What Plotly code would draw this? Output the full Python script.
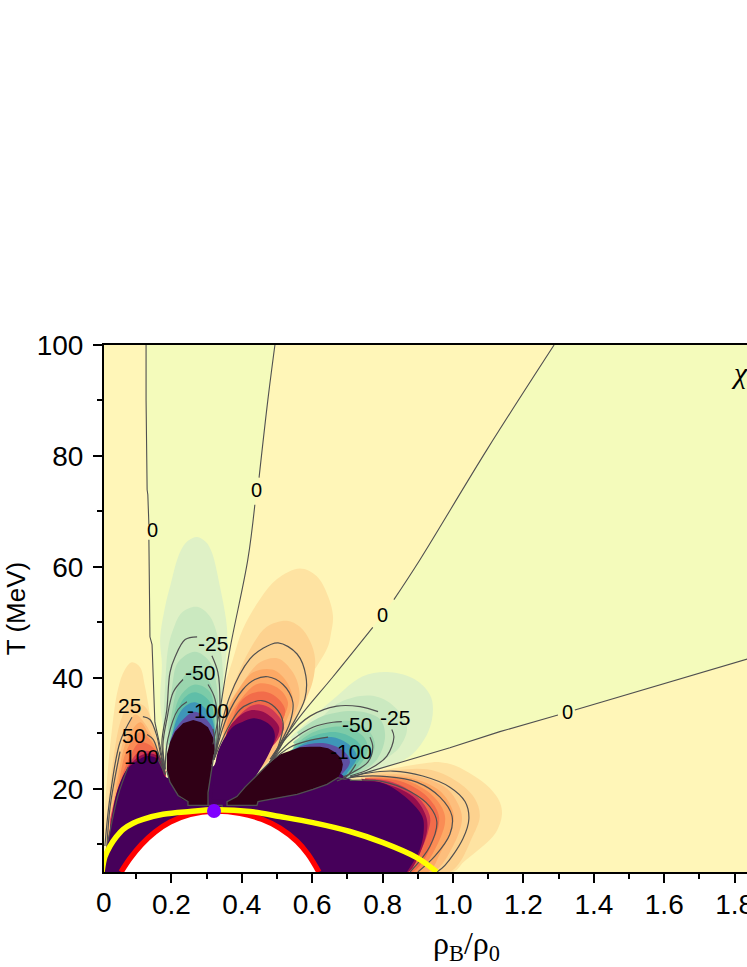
import plotly.graph_objects as go

# ---- axis values and labels -------------------------------------------------
x_ticks = [0.2, 0.4, 0.6, 0.8, 1.0, 1.2, 1.4, 1.6, 1.8]
x_labels = ["0.2", "0.4", "0.6", "0.8", "1.0", "1.2", "1.4", "1.6", "1.8"]
x_minor = [0.1, 0.3, 0.5, 0.7, 0.9, 1.1, 1.3, 1.5, 1.7]
y_ticks = [20, 40, 60, 80, 100]
y_labels = ["20", "40", "60", "80", "100"]
y_minor = [10, 30, 50, 70, 90]

# ---- zero contours (rho/rho0, T) ---------------------------------------------
zero_a = [(.128,100),(.128,90.1),(.131,73.9),(.133,73.0),(.136,67.6),(.136,64.9),(.139,47.4),(.145,46.0),(.153,32.0),(.168,27.6),(.182,22.6)]
zero_b = [(.494,100),(.474,90.1),(.449,76.1),(.437,71.2),(.417,61.3),(.366,45.1),(.338,34.3),(.318,28.0)]
zero_c = [(1.287,100),(1.096,81.1),(.906,61.3),(.832,54.1),(.772,49.1),(.659,40.2),(.565,33.0),(.480,25.3)]
zero_d = [(1.9,44.6),(1.531,37.6),(1.346,34.2),(1.298,33.3),(1.133,30.3),(.991,27.4),(.849,24.8),(.736,22.6),(.693,21.7)]

# ---- filled bands: left lobe ---------------------------------------------------
L1 = [(.006,12.7),(.026,27.7),(.048,37.9),(.068,41.5),(.088,42.8),(.111,41.9),(.125,38.4),(.148,30.8),(.168,27.2),(.182,21.7),(.026,7.3)]
L2 = [(.011,10.9),(.031,23.5),(.060,33.0),(.088,35.6),(.125,34.8),(.145,32.0),(.162,27.6),(.182,21.7),(.026,7.3)]
L3 = [(.017,10.9),(.040,22.3),(.074,30.7),(.097,33.4),(.131,31.2),(.159,27.1),(.182,21.7),(.026,7.3)]
L4 = [(.020,10.9),(.045,21.2),(.074,28.9),(.111,32.0),(.133,30.2),(.162,26.6),(.182,21.7),(.026,7.3)]
L5 = [(.020,10.9),(.048,20.4),(.074,27.1),(.111,30.2),(.139,28.9),(.165,26.2),(.182,21.7),(.026,7.3)]
L6 = [(.026,14.0),(.054,21.2),(.082,25.8),(.111,28.4),(.145,27.6),(.165,25.8),(.182,21.7),(.026,7.3)]
L7 = [(.026,14.5),(.048,19.9),(.088,25.3),(.111,26.7),(.145,26.7),(.168,25.7),(.182,21.7),(.026,7.3)]
L8 = [(.026,13.5),(.048,19.5),(.077,23.9),(.119,26.2),(.153,26.2),(.170,25.3),(.182,21.7),(.026,7.3)]

# ---- filled bands: central negative lobe ---------------------------------------
G1 = [(.196,19.9),(.176,30.7),(.168,36.1),(.173,42.4),(.168,46.9),(.182,52.8),(.196,56.4),(.224,62.6),(.247,64.7),(.273,65.4),(.298,64.5),(.315,62.6),(.338,56.4),(.358,48.8),(.355,43.3),(.344,37.9),(.332,32.5),(.315,25.3)]
G2 = [(.176,30.7),(.182,38.4),(.190,45.1),(.202,48.2),(.230,51.8),(.273,52.8),(.310,51.0),(.338,45.6),(.346,41.0),(.344,34.3),(.329,28.0),(.196,20)]
G3 = [(.190,30.7),(.202,38.4),(.219,42.8),(.267,44.7),(.310,42.8),(.329,38.4),(.332,32.0),(.321,27.1),(.2,20)]
G4 = [(.190,28),(.202,33.9),(.224,39.2),(.267,41.6),(.304,39.7),(.324,36.1),(.329,30.7),(.321,27.1)]
G5 = [(.195,28),(.202,31.3),(.224,36.6),(.267,38.8),(.310,37.4),(.321,33.0),(.324,28)]
G6 = [(.2,27),(.205,30.8),(.233,36.1),(.267,37.4),(.310,35.6),(.324,30.8),(.324,27)]
G7 = [(.2,26),(.202,29.5),(.230,34.3),(.267,35.6),(.310,33.4),(.324,29.4),(.32,26)]
G8 = [(.2,26),(.196,28.4),(.216,31.2),(.267,33.9),(.315,31.2),(.324,28.4),(.32,26)]

# ---- filled bands: upper positive lobe ------------------------------------------
O1 = [(.327,25.3),(.346,37.2),(.375,43.4),(.403,48.8),(.452,54.2),(.500,57.8),(.565,59.7),(.613,58.3),(.645,54.7),(.659,51.1),(.653,47.9),(.645,45.7),(.613,42.1),(.565,37.9),(.508,32.5),(.457,27.1),(.395,21.7)]
O2 = [(.346,28.0),(.346,33.0),(.375,38.4),(.423,45.1),(.471,49.2),(.528,50.3),(.565,49.2),(.594,46.6),(.608,43.5),(.602,39.5),(.585,36.5),(.545,31.5),(.500,26.5),(.437,22.6)]
O3 = [(.346,28.0),(.358,34.3),(.395,38.4),(.452,42.8),(.503,43.5),(.545,41.0),(.562,38.2),(.562,35.5),(.535,31.5),(.500,27.0),(.437,22.6)]
O4 = [(.350,28),(.352,33.0),(.386,37.4),(.432,41.0),(.486,41.5),(.523,39.7),(.545,36.1),(.528,32.5),(.480,27.1),(.437,22.6)]
O5 = [(.354,28),(.361,32.5),(.403,36.6),(.440,38.8),(.474,38.9),(.508,37.9),(.531,35.6),(.514,32.2),(.474,27.1),(.432,22.6)]
O6 = [(.358,28),(.372,32.1),(.395,35.6),(.429,37.2),(.466,37.5),(.497,36.6),(.523,34.3),(.508,31.2),(.469,27.1),(.432,22.6)]
O7 = [(.358,28),(.375,31.6),(.403,33.9),(.429,35.0),(.452,35.2),(.486,34.3),(.520,31.2),(.503,28.9),(.466,26.2),(.432,22.6)]
O8 = [(.352,28),(.361,30.7),(.395,33.2),(.423,34.1),(.446,34.1),(.474,33.4),(.506,31.1),(.494,28.5),(.460,25.3),(.432,22.6)]
P2 = [(.315,18.1),(.327,25.3),(.338,27.6),(.375,31.2),(.403,32.1),(.432,32.7),(.460,32.3),(.486,31.1),(.494,29.4),(.480,26.7),(.452,23.5),(.395,18.1)]

# ---- filled bands: right negative lobe ------------------------------------------
R1 = [(.537,29.3),(.585,32.0),(.659,36.1),(.744,40.3),(.821,41.0),(.892,39.7),(.934,37.0),(.943,34.3),(.929,30.2),(.878,25.9),(.792,23.5),(.693,21.7)]
R2 = [(.565,29.0),(.613,32.0),(.679,35.6),(.764,36.8),(.826,35.2),(.869,31.2),(.849,27.6),(.792,24.8),(.693,21.7)]
R3 = [(.557,30.2),(.630,33.1),(.727,34.0),(.792,32.6),(.807,29.5),(.784,25.3),(.727,22.6),(.69,21.7),(.6,25)]
R4 = [(.545,28.4),(.613,31.1),(.707,32.2),(.764,30.2),(.778,27.6),(.755,24.8),(.699,21.8),(.6,25)]
R5 = [(.545,27.5),(.602,30.2),(.687,31.2),(.744,29.5),(.758,27.1),(.736,24.4),(.693,22.1),(.6,25)]
R6 = [(.537,26.8),(.594,29.3),(.670,30.2),(.727,28.6),(.744,26.6),(.721,24.1),(.684,22.1),(.6,25)]
R7 = [(.528,26.2),(.585,28.4),(.659,29.3),(.713,27.5),(.727,25.7),(.707,23.5),(.679,21.7),(.6,25)]
R8 = [(.517,25.7),(.565,27.6),(.636,28.2),(.693,26.6),(.707,24.8),(.684,22.6),(.650,20.8),(.6,25)]

# ---- filled bands: lower positive lobe ------------------------------------------
B1 = [(.707,22.6),(.764,23.0),(.849,23.9),(.920,24.6),(.963,24.8),(1.005,24.2),(1.06,22.3),(1.105,20.1),(1.132,17.7),(1.139,15.4),(1.125,12.5),(1.098,10.4),(1.068,8.8),(1.03,6.8),(1.000,5),(.8,5)]
B2 = [(.736,22.4),(.926,23.5),(1.011,21.3),(1.062,18.2),(1.076,15.1),(1.056,11.5),(.991,5.0),(.8,5)]
B3 = [(.764,22.4),(.892,22.4),(.983,20.0),(1.020,16.4),(1.025,14.2),(1.000,9.7),(.943,5.0),(.8,5)]
B4 = [(.764,22.2),(.878,22.0),(.963,19.6),(1.000,15.9),(1.000,13.7),(.963,8.3),(.929,5),(.8,5)]
B5 = [(.75,22),(.858,21.7),(.943,18.7),(.977,15.1),(.963,11.0),(.897,5),(.8,5)]
B6 = [(.75,21.9),(.849,21.4),(.926,18.6),(.960,15.0),(.943,10.5),(.886,5),(.8,5)]
B7 = [(.75,21.8),(.829,21.2),(.897,18.7),(.934,15.1),(.929,12.2),(.886,6.0),(.869,5),(.8,5)]
B8 = [(.74,21.8),(.809,20.9),(.886,18.6),(.923,15.1),(.926,12.4),(.892,6.5),(.872,5),(.8,5)]
P1 = [(.003,5),(.011,8.2),(.026,12.7),(.045,19.4),(.074,23.5),(.102,25.0),(.131,25.9),(.162,25.3),(.182,22.2),(.195,22),(.25,25),(.30,25),(.318,24),(.33,25),(.345,24),(.42,21),(.48,24),(.565,25),(.65,24),(.707,21.7),(.801,21.0),(.869,18.3),(.912,15.1),(.917,12.8),(.906,9.1),(.869,5)]

# ---- saturated plateaus ----------------------------------------------------------
M1 = [(.262,32.4),(.284,32.0),(.304,31.1),(.318,29.3),(.324,27.1),(.315,24.4),(.307,20.8),(.304,17.0),(.247,17.0),(.247,17.7),(.230,18.1),(.219,18.8),(.207,19.9),(.196,21.2),(.187,23.2),(.187,26.2),(.196,28.4),(.210,30.3),(.233,31.8)]
M2 = [(.358,17.0),(.358,17.7),(.386,18.6),(.409,20.3),(.429,21.5),(.452,23.0),(.480,24.8),(.508,26.2),(.537,26.9),(.565,27.5),(.594,27.6),(.622,27.6),(.645,27.3),(.665,26.6),(.682,25.5),(.687,24.4),(.684,23.3),(.673,22.0),(.642,20.8),(.602,19.9),(.557,19.0),(.517,18.6),(.500,18.3),(.446,17.7),(.443,17.0)]
edge1 = [(.187,23.2),(.196,21.2),(.219,18.8),(.247,17.7),(.247,17.0),(.304,17.0),(.304,19.3),(.315,24.4),(.321,26.2)]
edge2 = [(.304,17.0),(.344,17.0),(.344,16.4)]
edge3 = [(.480,24.8),(.452,23.0),(.429,21.5),(.409,20.3),(.386,18.6),(.358,17.7),(.358,17.0),(.443,17.0),(.446,17.7),(.500,18.3),(.517,18.6),(.557,19.0),(.602,19.9),(.642,20.8),(.673,22.0),(.693,21.7)]

# ---- labelled contours -----------------------------------------------------------
level_lines = [
    [(.088,32.9),(.054,28.4),(.026,18.7),(.011,9.7)],
    [(.119,33.0),(.139,32.5),(.159,29.4),(.168,26.6),(.182,22.6)],
    [(.054,26.7),(.026,16.8),(.017,9.7)],
    [(.131,29.8),(.148,28.9),(.162,26.6),(.182,22.6)],
    [(.077,23.9),(.048,18.7),(.020,10.5)],
    [(.162,25.3),(.182,22.6)],
    [(.273,47.4),(.239,46.9),(.210,43.7),(.196,41.0),(.187,34.3),(.173,28.4),(.182,23.5)],
    [(.315,44.0),(.332,41.0),(.338,35.6),(.332,28.4),(.321,25.3)],
    [(.233,39.7),(.205,37.4),(.187,32.5),(.176,28.0),(.182,23.5)],
    [(.304,38.8),(.324,36.1),(.329,28.4),(.321,25.3)],
    [(.244,35.7),(.219,34.3),(.190,29.0),(.182,23.5)],
    [(.318,30.8),(.324,28),(.321,25.3)],
    [(.321,25.3),(.329,27.8),(.366,36.7),(.423,43.4),(.457,45.2),(.503,46.3),(.557,44.3),(.582,40.3),(.579,36.2),(.537,30.8),(.494,25.9),(.480,24.8)],
    [(.321,25.3),(.358,33.0),(.403,37.9),(.437,39.7),(.474,40.2),(.517,38.8),(.545,35.6),(.537,32.0),(.500,27.1),(.480,24.8)],
    [(.321,25.3),(.358,30.7),(.395,34.3),(.423,35.4),(.457,35.9),(.494,34.7),(.517,32.0),(.503,27.6),(.480,24.8)],
    [(.480,24.8),(.528,29.3),(.594,33.1),(.670,34.9),(.736,34.8),(.787,33.9)],
    [(.826,30.7),(.832,29.3),(.812,25.9),(.764,23.6),(.707,22.3)],
    [(.480,24.8),(.545,28.9),(.602,31.1),(.659,32.0),(.684,32.1)],
    [(.764,29.3),(.772,27.5),(.758,24.8),(.716,23.0),(.687,22.1)],
    [(.480,24.8),(.537,27.5),(.585,28.6),(.645,29.3)],
    [(.724,24.4),(.699,22.3),(.670,21.4)],
    [(.707,22.1),(.755,22.8),(.829,23.2),(.914,22.3),(.991,20.3),(1.034,17.7),(1.045,14.6),(1.028,11.0),(.977,6.2),(.954,5)],
    [(.707,22),(.727,22.2),(.812,22.2),(.897,21.2),(.963,18.5),(.997,15.1),(.991,11.8),(.949,7.9),(.900,5)],
    [(.707,21.5),(.801,21.3),(.878,19.5),(.934,16.8),(.954,14.0),(.934,9.6),(.878,5)],
]

# ---- boundary curves --------------------------------------------------------------
red_curve = [(.057,5),(.082,7.4),(.114,9.9),(.153,12.2),(.196,14.0),(.253,15.4),(.321,16.0),(.395,15.6),(.457,14.5),(.508,12.9),(.557,10.5),(.588,8.2),(.619,5)]
yellow_curve = [(.003,5),(.011,7.7),(.026,9.7),(.043,11.3),(.063,12.7),(.091,13.8),(.119,14.5),(.176,15.4),(.253,15.9),(.321,16.2),(.423,15.9),(.508,15.0),(.602,13.9),(.707,12.3),(.801,10.3),(.897,7.6),(.954,5)]
critical_rho = [0.321]
critical_T = [16.0]

# ---- contour label texts ------------------------------------------------------------
label_text = ["0", "0", "0", "0", "-25", "-50", "-100", "25", "50", "100", "-50", "-25", "-100"]
label_rho = [.145, .443, .801, 1.324, .318, .281, .304, .082, .091, .114, .727, .835, .710]
label_T = [66.7, 73.9, 51.4, 33.8, 46.2, 40.9, 34.1, 35.0, 29.6, 25.8, 31.6, 32.9, 26.8]

colors = {
    "pos1": "#FEE3A2", "pos2": "#FDD28F", "pos3": "#FDBE7C", "pos4": "#FDA965",
    "pos5": "#FA8C55", "pos6": "#F26C4A", "pos7": "#CF3A55", "pos8": "#950E4E",
    "neg1": "#DFF1C6", "neg2": "#CBE9C0", "neg3": "#B2DEB7", "neg4": "#9AD5AE",
    "neg5": "#7CCBA8", "neg6": "#5FBEA8", "neg7": "#3E96B8", "neg8": "#5E4FA2",
    "cream": "#FFF6B8", "lime": "#F4FBBB", "purple": "#46005A", "maroon": "#300016",
    "line": "#505050",
}

fig = go.Figure()


def area(pts, color, smooth=True):
    xs = [p[0] for p in pts]
    ys = [p[1] for p in pts]
    fig.add_trace(go.Scatter(
        x=xs, y=ys, mode="lines", fill="toself", fillcolor=color,
        line=dict(width=0, shape="spline" if smooth else "linear", smoothing=1.0),
        hoverinfo="skip", showlegend=False))


def curve(pts, color, width, smooth=True):
    fig.add_trace(go.Scatter(
        x=[p[0] for p in pts], y=[p[1] for p in pts], mode="lines",
        line=dict(color=color, width=width, shape="spline" if smooth else "linear", smoothing=1.0),
        hoverinfo="skip", showlegend=False))


# lime wedges between zero contours
area(zero_a + [(.31, 18)] + zero_b[::-1], colors["lime"], smooth=False)
area(zero_c + zero_d[::-1] + [(1.9, 100)], colors["lime"], smooth=False)

band_names = ["pos1", "pos2", "pos3", "pos4", "pos5", "pos6", "pos7", "pos8"]
for lobe in ([O1, O2, O3, O4, O5, O6, O7, O8], [B1, B2, B3, B4, B5, B6, B7, B8], [L1, L2, L3, L4, L5, L6, L7, L8]):
    for pts, name in zip(lobe, band_names):
        area(pts, colors[name])
neg_names = ["neg1", "neg2", "neg3", "neg4", "neg5", "neg6", "neg7", "neg8"]
for lobe in ([G1, G2, G3, G4, G5, G6, G7, G8], [R1, R2, R3, R4, R5, R6, R7, R8]):
    for pts, name in zip(lobe, neg_names):
        area(pts, colors[name])

area(P1, colors["purple"])
area(P2, colors["purple"])
area(M1, colors["maroon"], smooth=False)
area(M2, colors["maroon"], smooth=False)

# contours
for seg in level_lines:
    curve(seg, colors["line"], 1.2)
curve(zero_a[:5], colors["line"], 1.1, smooth=False)
curve(zero_a[5:], colors["line"], 1.1, smooth=False)
curve(zero_b[:3], colors["line"], 1.1)
curve(zero_b[3:], colors["line"], 1.1)
curve(zero_c[:4], colors["line"], 1.1)
curve(zero_c[4:], colors["line"], 1.1)
curve(zero_d[:3], colors["line"], 1.1, smooth=False)
curve(zero_d[3:], colors["line"], 1.1, smooth=False)
curve(edge1, colors["line"], 1.3, smooth=False)
curve(edge2, colors["line"], 1.3, smooth=False)
curve(edge3, colors["line"], 1.3, smooth=False)

# dome, boundaries, critical point
area(red_curve, "#FFFFFF")
curve(red_curve, "#FF0000", 5.5)
curve(yellow_curve, "#FFFF00", 5.5)
fig.add_trace(go.Scatter(x=critical_rho, y=critical_T, mode="markers",
                         marker=dict(color="#8000FF", size=14, line=dict(width=0)),
                         hoverinfo="skip", showlegend=False))

FONT = "Liberation Sans, Arial, sans-serif"
annotations = []
for txt, rx, ty in zip(label_text, label_rho, label_T):
    annotations.append(dict(x=rx, y=ty, xref="x", yref="y", text=txt, showarrow=False,
                            font=dict(family=FONT, size=20 if txt == "0" else 21, color="black"),
                            xanchor="center", yanchor="middle"))
# "0" tick label, axis titles and panel mark
annotations.append(dict(x=0, y=0, xref="paper", yref="paper", yshift=-30, text="0", showarrow=False,
                        font=dict(family=FONT, size=28, color="black"), xanchor="center", yanchor="middle"))
annotations.append(dict(x=1.037, y=0, xref="x", yref="paper", yshift=-73,
                        text="ρ<sub>B</sub>/ρ<sub>0</sub>", showarrow=False,
                        font=dict(family="Liberation Serif, Times New Roman, serif", size=32, color="black"),
                        xanchor="center", yanchor="middle"))
annotations.append(dict(x=1.785, y=95, xref="x", yref="y", text="<i>χ</i>", showarrow=False,
                        font=dict(family="Liberation Serif, Times New Roman, serif", size=30, color="black"),
                        xanchor="left", yanchor="middle"))

fig.update_layout(
    width=747, height=967,
    margin=dict(l=104, r=0, t=345, b=95, autoexpand=False),
    paper_bgcolor="white", plot_bgcolor=colors["cream"],
    showlegend=False,
    annotations=annotations,
    font=dict(family=FONT, color="black"),
    xaxis=dict(range=[0.0085, 1.835], tickmode="array", tickvals=x_ticks, ticktext=x_labels,
               ticks="outside", ticklen=9, tickwidth=2, tickcolor="black",
               showline=True, linecolor="black", linewidth=2, mirror=True,
               showgrid=False, zeroline=False, tickfont=dict(family=FONT, size=28),
               ticklabelstandoff=-3, ticklabeloverflow="allow",
               minor=dict(tickmode="array", tickvals=x_minor, ticks="outside", ticklen=5,
                          tickwidth=2, tickcolor="black", showgrid=False)),
    yaxis=dict(range=[5, 100], tickmode="array", tickvals=y_ticks, ticktext=y_labels,
               ticks="outside", ticklen=9, tickwidth=2, tickcolor="black",
               showline=True, linecolor="black", linewidth=2, mirror=True,
               showgrid=False, zeroline=False, tickfont=dict(family=FONT, size=28),
               ticklabelstandoff=4,
               title=dict(text="T (MeV)", font=dict(family=FONT, size=26), standoff=4),
               minor=dict(tickmode="array", tickvals=y_minor, ticks="outside", ticklen=5,
                          tickwidth=2, tickcolor="black", showgrid=False)),
)

fig.write_html("out.html", config={"displayModeBar": False},
               post_script="document.body.style.margin='0';")
